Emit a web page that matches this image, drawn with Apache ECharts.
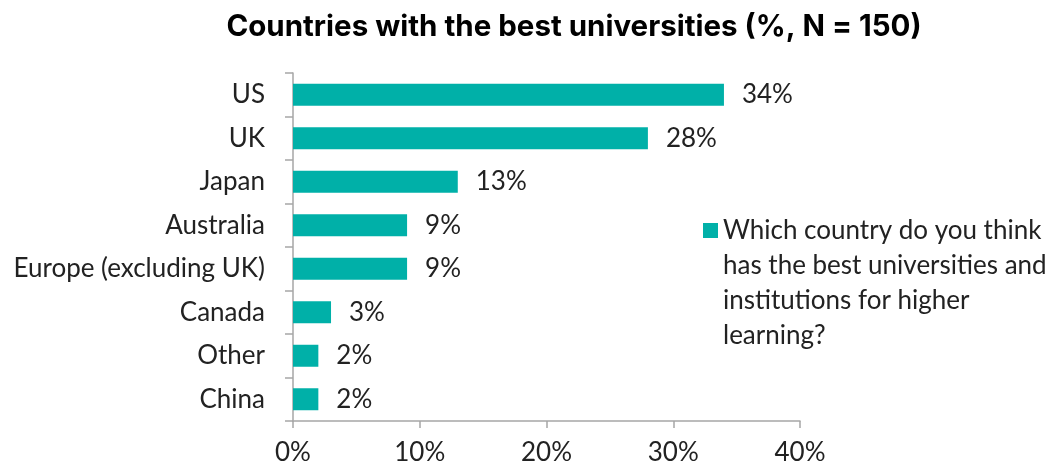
<!DOCTYPE html>
<html>
<head>
<meta charset="utf-8">
<script src="https://cdn.jsdelivr.net/npm/echarts@6/dist/echarts.min.js"></script>
<style>
  html, body { margin: 0; padding: 0; background: #fff; }
  #chart { width: 1054px; height: 468px; }
</style>
</head>
<body>
<div id="chart"></div>
<script>
// Survey results: share of respondents naming each country
const countries = ['US', 'UK', 'Japan', 'Australia', 'Europe (excluding UK)', 'Canada', 'Other', 'China'];
const shares = [34, 28, 13, 9, 9, 3, 2, 2];
const seriesName = 'Which country do you think\nhas the best universities and\ninstitutions for higher\nlearning?';
const xTicks = [0, 10, 20, 30, 40];

const teal = '#00b0a8';
const axisGrey = '#a6a6a6';
const bodyFont = 'Lato';
const bodySize = 26;

const chart = echarts.init(document.getElementById('chart'), null, { renderer: 'canvas' });

chart.setOption({
  animation: false,
  title: {
    text: 'Countries with the best universities (%, N = 150)',
    left: 569,
    textAlign: 'center',
    top: 7,
    textStyle: { fontFamily: 'Inter', fontWeight: 'bold', fontSize: 29.5, color: '#000' }
  },
  legend: {
    left: 703,
    top: 108,
    padding: 0,
    itemWidth: 15,
    itemHeight: 15,
    itemGap: 0,
    icon: 'rect',
    data: [seriesName],
    // three leading blank lines keep the square level with the first text line
    formatter: name => '\n\n\n' + name,
    textStyle: {
      fontFamily: bodyFont,
      fontSize: bodySize,
      color: '#222',
      lineHeight: 35
    }
  },
  grid: { left: 293, right: 254, top: 73, bottom: 47, containLabel: false },
  xAxis: {
    type: 'value',
    min: xTicks[0],
    max: xTicks[xTicks.length - 1],
    interval: 10,
    axisLine: { show: true, lineStyle: { color: axisGrey, width: 1.5 } },
    axisTick: { show: true, length: 7, lineStyle: { color: axisGrey, width: 1.5 } },
    splitLine: { show: false },
    axisLabel: {
      formatter: v => v + '%',
      margin: 19,
      fontFamily: bodyFont,
      fontSize: bodySize,
      color: '#222'
    }
  },
  yAxis: {
    type: 'category',
    data: countries,
    inverse: true,
    axisLine: { show: true, lineStyle: { color: axisGrey, width: 1.5 } },
    axisTick: { show: true, length: 8, lineStyle: { color: axisGrey, width: 1.5 } },
    axisLabel: {
      margin: 28,
      fontFamily: bodyFont,
      fontSize: bodySize,
      color: '#222'
    }
  },
  series: [{
    name: seriesName,
    type: 'bar',
    data: shares,
    barWidth: 22,
    itemStyle: { color: teal },
    label: {
      show: true,
      position: 'right',
      distance: 18,
      formatter: p => p.value + '%',
      fontFamily: bodyFont,
      fontSize: bodySize,
      color: '#222'
    }
  }]
});
</script>
</body>
</html>
